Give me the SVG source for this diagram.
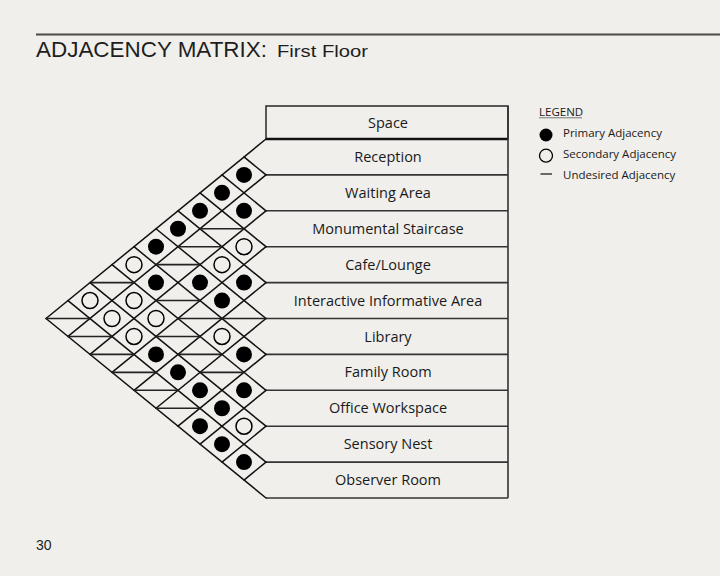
<svg xmlns="http://www.w3.org/2000/svg" width="720" height="576" viewBox="0 0 720 576">
<style>
.bg{fill:#f0efeb}
.grid{stroke:#111;stroke-width:1.5;fill:none;stroke-linecap:round}
.und{stroke:#222;stroke-width:1.6;fill:none}
.tbl{stroke:#333;stroke-width:1.6;fill:none}
.lbl{font-family:"Open Sans","Noto Sans",sans-serif;font-size:14.5px;fill:#1a1a1a;text-anchor:middle}
.leg{font-family:"Open Sans","Noto Sans",sans-serif;font-size:11.5px;fill:#1a1a1a}
.ttl{font-family:"Liberation Sans","DejaVu Sans",sans-serif;fill:#1e1e1e}
</style>
<defs>
<circle id="pri" r="8" fill="#000"/>
<circle id="sec" r="8" fill="none" stroke="#000" stroke-width="1.5"/>
</defs>
<rect class="bg" x="0" y="0" width="720" height="576"/>

<g id="title">
<line x1="36" y1="34.5" x2="720" y2="34.5" stroke="#4d4a45" stroke-width="2"/>
<text class="ttl" x="36" y="57" font-size="22" textLength="231" lengthAdjust="spacingAndGlyphs">ADJACENCY MATRIX:</text>
<text class="ttl" x="277" y="57" font-size="16.5" textLength="91" lengthAdjust="spacingAndGlyphs">First Floor</text>
</g>

<g id="legend">
<text class="leg" x="539" y="115.5" font-size="11.5" fill="#333">LEGEND</text>
<line x1="539" y1="117.8" x2="582" y2="117.8" stroke="#777" stroke-width="1"/>
<circle cx="546" cy="135" r="6.5" fill="#000"/>
<text class="leg" x="563" y="136.5">Primary Adjacency</text>
<circle cx="546" cy="155.7" r="6.5" fill="none" stroke="#000" stroke-width="1.3"/>
<text class="leg" x="563" y="158">Secondary Adjacency</text>
<line x1="540.5" y1="174" x2="552" y2="174" stroke="#222" stroke-width="1.3"/>
<text class="leg" x="563" y="178.5">Undesired Adjacency</text>
</g>

<g id="table">
<rect class="tbl" x="266" y="106" width="242" height="33"/>
<line x1="266" y1="139" x2="508" y2="139" stroke="#111" stroke-width="2.6"/>
<line class="tbl" x1="508" y1="106" x2="508" y2="498" stroke="#555" stroke-width="2"/>
<line class="tbl" x1="266" y1="174.9" x2="508" y2="174.9"/>
<line class="tbl" x1="266" y1="210.8" x2="508" y2="210.8"/>
<line class="tbl" x1="266" y1="246.7" x2="508" y2="246.7"/>
<line class="tbl" x1="266" y1="282.6" x2="508" y2="282.6"/>
<line class="tbl" x1="266" y1="318.5" x2="508" y2="318.5"/>
<line class="tbl" x1="266" y1="354.4" x2="508" y2="354.4"/>
<line class="tbl" x1="266" y1="390.3" x2="508" y2="390.3"/>
<line class="tbl" x1="266" y1="426.2" x2="508" y2="426.2"/>
<line class="tbl" x1="266" y1="462.1" x2="508" y2="462.1"/>
<line class="tbl" x1="266" y1="498" x2="508" y2="498"/>
</g>
<g id="space"><text class="lbl" x="388" y="128">Space</text></g>
<g id="reception"><text class="lbl" x="388" y="162">Reception</text></g>
<g id="waiting-area"><text class="lbl" x="388" y="197.9">Waiting Area</text></g>
<g id="monumental-staircase"><text class="lbl" x="388" y="233.8">Monumental Staircase</text></g>
<g id="cafe-lounge"><text class="lbl" x="388" y="269.7">Cafe/Lounge</text></g>
<g id="interactive-informative-area"><text class="lbl" x="388" y="305.6">Interactive Informative Area</text></g>
<g id="library"><text class="lbl" x="388" y="341.5">Library</text></g>
<g id="family-room"><text class="lbl" x="388" y="377.4">Family Room</text></g>
<g id="office-workspace"><text class="lbl" x="388" y="413.3">Office Workspace</text></g>
<g id="sensory-nest"><text class="lbl" x="388" y="449.2">Sensory Nest</text></g>
<g id="observer-room"><text class="lbl" x="388" y="485.1">Observer Room</text></g>

<g id="connectors" class="grid">
<line x1="266" y1="139" x2="46" y2="318.5"/>
<line x1="266" y1="174.9" x2="68" y2="336.45"/>
<line x1="266" y1="210.8" x2="90" y2="354.4"/>
<line x1="266" y1="246.7" x2="112" y2="372.35"/>
<line x1="266" y1="282.6" x2="134" y2="390.3"/>
<line x1="266" y1="318.5" x2="156" y2="408.25"/>
<line x1="266" y1="354.4" x2="178" y2="426.2"/>
<line x1="266" y1="390.3" x2="200" y2="444.15"/>
<line x1="266" y1="426.2" x2="222" y2="462.1"/>
<line x1="266" y1="462.1" x2="244" y2="480.05"/>
<line x1="266" y1="174.9" x2="244" y2="156.95"/>
<line x1="266" y1="210.8" x2="222" y2="174.9"/>
<line x1="266" y1="246.7" x2="200" y2="192.85"/>
<line x1="266" y1="282.6" x2="178" y2="210.8"/>
<line x1="266" y1="318.5" x2="156" y2="228.75"/>
<line x1="266" y1="354.4" x2="134" y2="246.7"/>
<line x1="266" y1="390.3" x2="112" y2="264.65"/>
<line x1="266" y1="426.2" x2="90" y2="282.6"/>
<line x1="266" y1="462.1" x2="68" y2="300.55"/>
<line x1="266" y1="498" x2="46" y2="318.5"/>
</g>

<g id="undesired" class="und">
<line x1="90" y1="282.6" x2="134" y2="282.6"/>
<line x1="46" y1="318.5" x2="90" y2="318.5"/>
<line x1="200" y1="228.75" x2="244" y2="228.75"/>
<line x1="178" y1="246.7" x2="222" y2="246.7"/>
<line x1="156" y1="264.65" x2="200" y2="264.65"/>
<line x1="68" y1="336.45" x2="112" y2="336.45"/>
<line x1="156" y1="300.55" x2="200" y2="300.55"/>
<line x1="90" y1="354.4" x2="134" y2="354.4"/>
<line x1="178" y1="318.5" x2="222" y2="318.5"/>
<line x1="156" y1="336.45" x2="200" y2="336.45"/>
<line x1="112" y1="372.35" x2="156" y2="372.35"/>
<line x1="222" y1="318.5" x2="266" y2="318.5"/>
<line x1="178" y1="354.4" x2="222" y2="354.4"/>
<line x1="134" y1="390.3" x2="178" y2="390.3"/>
<line x1="200" y1="372.35" x2="244" y2="372.35"/>
<line x1="156" y1="408.25" x2="200" y2="408.25"/>
</g>

<g id="primary">
<use href="#pri" x="244" y="174.9"/>
<use href="#pri" x="222" y="192.85"/>
<use href="#pri" x="200" y="210.8"/>
<use href="#pri" x="178" y="228.75"/>
<use href="#pri" x="156" y="246.7"/>
<use href="#pri" x="244" y="210.8"/>
<use href="#pri" x="156" y="282.6"/>
<use href="#pri" x="200" y="282.6"/>
<use href="#pri" x="244" y="282.6"/>
<use href="#pri" x="222" y="300.55"/>
<use href="#pri" x="156" y="354.4"/>
<use href="#pri" x="178" y="372.35"/>
<use href="#pri" x="244" y="354.4"/>
<use href="#pri" x="200" y="390.3"/>
<use href="#pri" x="244" y="390.3"/>
<use href="#pri" x="222" y="408.25"/>
<use href="#pri" x="200" y="426.2"/>
<use href="#pri" x="222" y="444.15"/>
<use href="#pri" x="244" y="462.1"/>
</g>
<g id="secondary">
<use href="#sec" x="134" y="264.65"/>
<use href="#sec" x="90" y="300.55"/>
<use href="#sec" x="134" y="300.55"/>
<use href="#sec" x="112" y="318.5"/>
<use href="#sec" x="244" y="246.7"/>
<use href="#sec" x="222" y="264.65"/>
<use href="#sec" x="156" y="318.5"/>
<use href="#sec" x="134" y="336.45"/>
<use href="#sec" x="222" y="336.45"/>
<use href="#sec" x="244" y="426.2"/>
</g>

<g id="page-number"><text class="ttl" x="36" y="549.5" font-size="14">30</text></g>
</svg>
